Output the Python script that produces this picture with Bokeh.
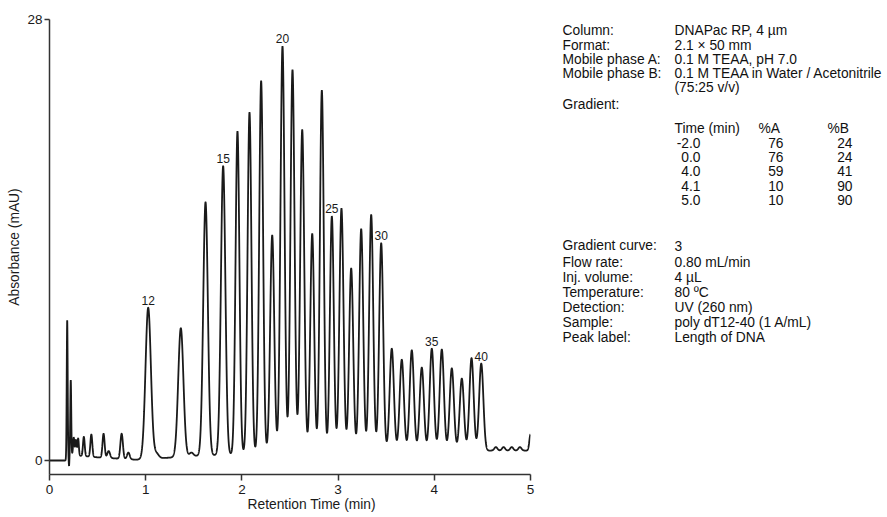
import numpy as np
from bokeh.plotting import figure
from bokeh.layouts import row
from bokeh.models import Range1d, FixedTicker, Title
from bokeh.embed import file_html
from bokeh.resources import INLINE
from bokeh.core.properties import value

# ---------------- data ----------------
# poly dT oligonucleotides: length -> retention time (min), apex absorbance (mAU), peak sigma (min)
peak_lengths = list(range(12, 41))
peak_times = [1.026, 1.365, 1.622, 1.805, 1.954, 2.079, 2.200, 2.315, 2.422, 2.526,
              2.627, 2.731, 2.831, 2.935, 3.035, 3.136, 3.240, 3.344, 3.448, 3.558,
              3.662, 3.766, 3.870, 3.974, 4.078, 4.182, 4.286, 4.387, 4.488]
peak_heights = [9.7, 8.4, 16.4, 18.7, 20.9, 22.1, 24.1, 14.3, 26.3, 24.8,
                21.0, 14.4, 23.5, 15.5, 16.0, 12.2, 14.7, 15.6, 13.8, 7.1,
                6.4, 7.0, 5.9, 7.1, 7.05, 5.85, 5.2, 6.5, 6.15]
peak_widths = [0.028, 0.027, 0.024, 0.023, 0.020, 0.020, 0.020, 0.021, 0.021, 0.021,
               0.021, 0.020, 0.020, 0.020, 0.021, 0.021, 0.021, 0.021, 0.021, 0.022,
               0.022, 0.022, 0.022, 0.022, 0.022, 0.022, 0.022, 0.022, 0.022]
labelled_lengths = [12, 15, 20, 25, 30, 35, 40]

# injection / minor features (time, apex level, sigma)
minor_times = [0.184, 0.203, 0.221, 0.252, 0.275, 0.298, 0.357, 0.435, 0.562, 0.615,
               0.750, 0.820, 1.110, 1.475, 4.640, 4.720, 4.805, 4.890, 5.000]
minor_heights = [8.9, -0.35, 5.1, 1.45, 1.3, 1.4, 1.5, 1.65, 1.7, 0.6,
                 1.7, 0.5, 0.45, 0.5, 0.85, 0.85, 0.85, 0.85, 1.65]
minor_widths = [0.005, 0.003, 0.005, 0.007, 0.007, 0.007, 0.009, 0.010, 0.011, 0.014,
                0.013, 0.014, 0.025, 0.020, 0.016, 0.016, 0.016, 0.016, 0.012]

# baseline level (mAU) at given times
baseline_times = [0.0, 0.165, 0.23, 0.5, 0.9, 1.3, 1.55, 2.0, 3.0, 4.5, 4.58, 5.0]
baseline_levels = [0.0, 0.0, 0.35, 0.2, 0.05, 0.2, 0.3, 0.4, 0.5, 0.6, 0.63, 0.63]

# method panel
param_labels_top = ["Column:", "Format:", "Mobile phase A:", "Mobile phase B:"]
param_values_top = ["DNAPac RP, 4 \u00b5m", "2.1  \u00d7 50 mm", "0.1 M TEAA, pH 7.0",
                    "0.1 M TEAA in Water / Acetonitrile"]
grad_times = ["-2.0", "0.0", "4.0", "4.1", "5.0"]
grad_A = ["76", "76", "59", "10", "10"]
grad_B = ["24", "24", "41", "90", "90"]
param_labels_bot = ["Gradient curve:", "Flow rate:", "Inj. volume:", "Temperature:",
                    "Detection:", "Sample:", "Peak label:"]
param_values_bot = ["3", "0.80 mL/min", "4 \u00b5L", "80 \u00baC", "UV (260 nm)",
                    "poly dT12-40 (1 A/mL)", "Length of DNA"]

# ---------------- build trace ----------------
t = np.linspace(0, 5, 10001)
trace = np.interp(t, baseline_times, baseline_levels)
for tc, h, w in zip(peak_times + minor_times, peak_heights + minor_heights,
                    peak_widths + minor_widths):
    amp = h - np.interp(tc, baseline_times, baseline_levels)
    trace = trace + amp * np.exp(-0.5 * ((t - tc) / w) ** 2)

FONT = "Liberation Sans"
INK = "#1a1a1a"
AX = "#333333"

p = figure(width=538, height=517, x_range=Range1d(0, 5), y_range=Range1d(-0.89, 28),
           toolbar_location=None, output_backend="svg", title=None,
           min_border_left=49, min_border_right=8, min_border_top=19, min_border_bottom=43)
p.outline_line_color = None
p.xgrid.visible = False
p.ygrid.visible = False

p.line(t, trace, line_color=INK, line_width=1.8)

lab_x = [peak_times[peak_lengths.index(n)] for n in labelled_lengths]
lab_y = [peak_heights[peak_lengths.index(n)] for n in labelled_lengths]
p.text(x=lab_x, y=lab_y, text=[str(n) for n in labelled_lengths], text_align="center",
       text_baseline="bottom", y_offset=-3, text_font=value(FONT), text_font_size="12px",
       text_color=INK)

for ax in (p.xaxis[0], p.yaxis[0]):
    ax.axis_line_color = AX
    ax.axis_line_width = 1.5
    ax.major_tick_line_color = AX
    ax.major_tick_line_width = 1.5
    ax.major_tick_in = 0
    ax.minor_tick_line_color = None
    ax.major_label_text_font = FONT
    ax.major_label_text_font_size = "13.5px"
    ax.major_label_text_color = "#1a1a1a"

p.xaxis.ticker = FixedTicker(ticks=[0, 1, 2, 3, 4, 5])
p.xaxis.major_tick_out = 6
p.xaxis.major_label_standoff = 4
p.yaxis.ticker = FixedTicker(ticks=[0, 28])
p.yaxis.major_tick_out = 5
p.yaxis.major_label_standoff = 2
p.yaxis.axis_label = "Absorbance (mAU)"
p.yaxis.axis_label_text_font = FONT
p.yaxis.axis_label_text_font_style = "normal"
p.yaxis.axis_label_text_font_size = "13.8px"
p.yaxis.axis_label_text_color = "#1a1a1a"
p.yaxis.axis_label_standoff = 2

p.add_layout(Title(text="Retention Time (min)", align="left", offset=198,
                   vertical_align="top", standoff=0, text_font=FONT,
                   text_font_size="13.8px", text_font_style="normal",
                   text_color="#1a1a1a"), "below")

# ---------------- method panel ----------------
# the row aligns this panel's frame with the chart frame (page y 19..474),
# so the y range maps data y directly to page y
q = figure(width=349, height=517, x_range=Range1d(0, 349), y_range=Range1d(474, 19),
           toolbar_location=None, output_backend="svg", title=None,
           x_axis_type=None, y_axis_type=None, min_border=0)
q.outline_line_color = None
q.xgrid.visible = False
q.ygrid.visible = False

LX, VX = 24, 136
top_y = [29.5, 44.5, 59, 73]
bot_y = [245, 261.5, 276.5, 291.5, 307, 321.5, 336.5]
row_y = [142.7, 156.7, 170.7, 185, 199]

def txt(xs, ys, texts, align="left"):
    q.text(x=xs, y=ys, text=texts, text_align=align, text_baseline="middle",
           text_font=value(FONT), text_font_size="13.8px", text_color="#111111")

txt([LX] * 4, top_y, param_labels_top)
txt([VX] * 4, top_y, param_values_top)
txt([VX], [87], ["(75:25 v/v)"])
txt([LX], [104], ["Gradient:"])
txt([VX, 220, 289], [128.3] * 3, ["Time (min)", "%A", "%B"])
txt([162] * 5, row_y, grad_times, "right")
txt([245] * 5, row_y, grad_A, "right")
txt([314] * 5, row_y, grad_B, "right")
txt([LX] * 7, bot_y, param_labels_bot)
txt([VX] * 7, bot_y, param_values_bot)

layout = row(p, q)
open("out.html", "w").write(file_html(layout, INLINE))
